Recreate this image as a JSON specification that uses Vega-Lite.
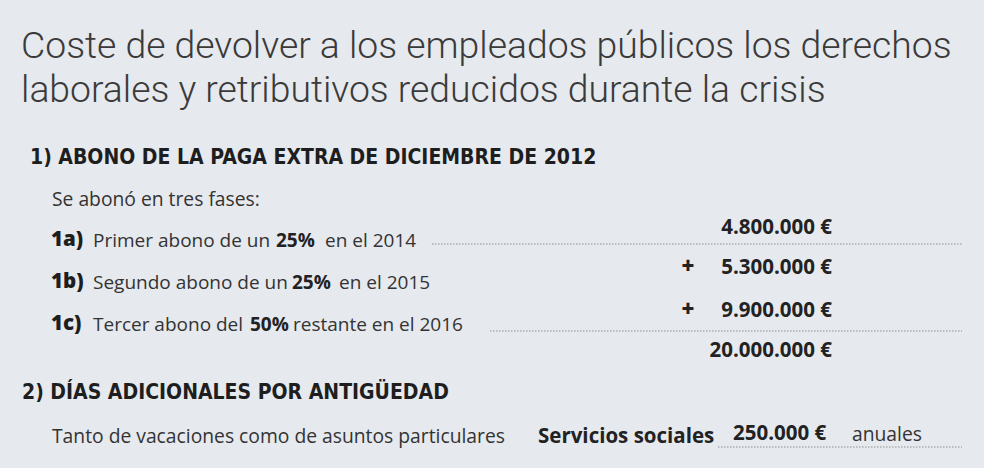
{
  "$schema": "https://vega.github.io/schema/vega-lite/v6.json",
  "width": 984,
  "height": 468,
  "padding": 0,
  "autosize": {"type": "none"},
  "background": "#e6e9ee",
  "config": {"view": {"stroke": null}},
  "encoding": {
    "x": {"field": "x", "type": "quantitative", "axis": null, "scale": {"domain": [0, 984], "nice": false, "zero": false}},
    "y": {"field": "y", "type": "quantitative", "axis": null, "scale": {"domain": [0, 468], "range": [0, 468], "nice": false, "zero": false}}
  },
  "layer": [
    {
      "data": {"values": [
        {"x": 432, "x2": 962, "y": 244},
        {"x": 490, "x2": 962, "y": 331},
        {"x": 718, "x2": 962, "y": 447}
      ]},
      "mark": {"type": "rule", "color": "#8f8f8f", "strokeWidth": 1, "strokeDash": [1.5, 1.5]},
      "encoding": {"x2": {"field": "x2"}}
    },
    {
      "data": {"values": [
        {"x": 21, "y": 47, "t": "Coste de devolver a los empleados públicos los derechos"},
        {"x": 21, "y": 91, "t": "laborales y retributivos reducidos durante la crisis"}
      ]},
      "mark": {"type": "text", "align": "left", "baseline": "middle", "font": "Roboto", "fontWeight": 300, "fontSize": 37.3, "color": "#3a3a3a"},
      "encoding": {"text": {"field": "t"}}
    },
    {
      "data": {"values": [
        {"x": 30, "y": 158, "t": "1) ABONO DE LA PAGA EXTRA DE DICIEMBRE DE 2012"},
        {"x": 22, "y": 393, "t": "2) DÍAS ADICIONALES POR ANTIGÜEDAD"}
      ]},
      "mark": {"type": "text", "align": "left", "baseline": "middle", "font": "DejaVu Sans Condensed, sans-serif", "fontWeight": "bold", "fontSize": 21, "color": "#1e1e1e"},
      "encoding": {"text": {"field": "t"}}
    },
    {
      "data": {"values": [
        {"x": 52, "y": 200, "t": "Se abonó en tres fases:"},
        {"x": 52, "y": 437, "t": "Tanto de vacaciones como de asuntos particulares"},
        {"x": 852, "y": 435, "t": "anuales"}
      ]},
      "mark": {"type": "text", "align": "left", "baseline": "middle", "font": "Open Sans", "fontSize": 19.3, "color": "#333333"},
      "encoding": {"text": {"field": "t"}}
    },
    {
      "data": {"values": [
        {"x": 93, "y": 241, "t": "Primer abono de un"},
        {"x": 325, "y": 241, "t": "en el 2014"},
        {"x": 93, "y": 283, "t": "Segundo abono de un"},
        {"x": 339, "y": 283, "t": "en el 2015"},
        {"x": 93, "y": 325, "t": "Tercer abono del"},
        {"x": 293, "y": 325, "t": "restante en el 2016"}
      ]},
      "mark": {"type": "text", "align": "left", "baseline": "middle", "font": "Open Sans", "fontSize": 19, "color": "#333333"},
      "encoding": {"text": {"field": "t"}}
    },
    {
      "data": {"values": [
        {"x": 276, "y": 241, "t": "25%"},
        {"x": 292, "y": 283, "t": "25%"},
        {"x": 250, "y": 325, "t": "50%"}
      ]},
      "mark": {"type": "text", "align": "left", "baseline": "middle", "font": "Open Sans", "fontWeight": "bold", "fontSize": 19, "color": "#222222"},
      "encoding": {"text": {"field": "t"}}
    },
    {
      "data": {"values": [
        {"x": 51, "y": 240, "t": "1a)"},
        {"x": 51, "y": 282, "t": "1b)"},
        {"x": 51, "y": 324, "t": "1c)"}
      ]},
      "mark": {"type": "text", "align": "left", "baseline": "middle", "font": "Open Sans", "fontWeight": 800, "fontSize": 20.5, "color": "#1e1e1e"},
      "encoding": {"text": {"field": "t"}}
    },
    {
      "data": {"values": [
        {"x": 538, "y": 437, "t": "Servicios sociales"},
        {"x": 733, "y": 434, "t": "250.000 €"}
      ]},
      "mark": {"type": "text", "align": "left", "baseline": "middle", "font": "Open Sans", "fontWeight": "bold", "fontSize": 20.5, "color": "#222222"},
      "encoding": {"text": {"field": "t"}}
    },
    {
      "data": {"values": [
        {"x": 688, "y": 267, "t": "+"},
        {"x": 688, "y": 310, "t": "+"}
      ]},
      "mark": {"type": "text", "align": "center", "baseline": "middle", "font": "Open Sans", "fontWeight": 800, "fontSize": 22, "color": "#222222"},
      "encoding": {"text": {"field": "t"}}
    },
    {
      "data": {"values": [
        {"x": 832, "y": 228, "t": "4.800.000 €"},
        {"x": 832, "y": 268, "t": "5.300.000 €"},
        {"x": 832, "y": 311, "t": "9.900.000 €"},
        {"x": 832, "y": 351, "t": "20.000.000 €"}
      ]},
      "mark": {"type": "text", "align": "right", "baseline": "middle", "font": "Open Sans", "fontWeight": "bold", "fontSize": 20.5, "color": "#222222"},
      "encoding": {"text": {"field": "t"}}
    }
  ]
}
